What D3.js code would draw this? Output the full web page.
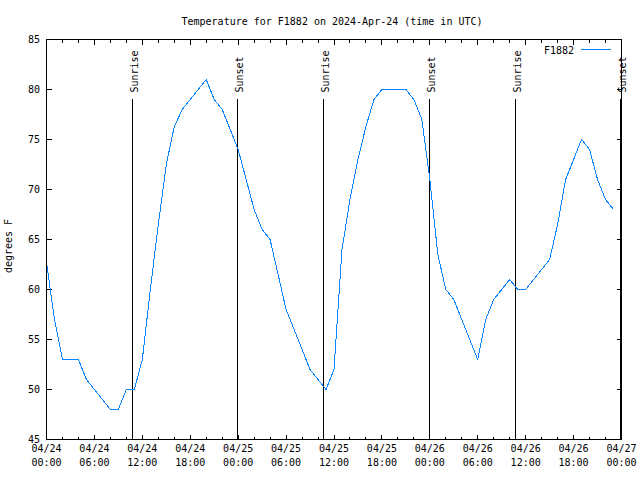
<!DOCTYPE html>
<html><head><meta charset="utf-8">
<script src="https://cdn.jsdelivr.net/npm/d3@7"></script>
<style>
body{margin:0;background:#fff}
svg{display:block}
text{font-family:"DejaVu Sans Mono",monospace;font-size:10px;fill:#000}
</style>
</head><body><svg id="c" width="640" height="480"></svg>
<script>
// ---- data ----
const chartTitle = "Temperature for F1882 on 2024-Apr-24 (time in UTC)";
const seriesName = "F1882";
const yAxisLabel = "degrees F";
const startTime = "2024-04-24T00:00:00Z";
const endTime = "2024-04-27T00:00:00Z";
// hourly temperatures (deg F) starting at startTime
const temps = [
  62.7, 57, 53, 53, 53, 51, 50, 49, 48, 48, 50, 50,
  53, 60, 66.5, 72.5, 76.3, 78, 79, 80, 81, 79, 78, 76,
  74, 71, 68, 66, 65, 61.5, 58, 56, 54, 52, 51, 50,
  52, 64, 69, 73, 76.3, 79, 80, 80, 80, 80, 79, 77,
  71, 63.5, 60, 59, 57, 55, 53, 57, 59, 60, 61, 60,
  60, 61, 62, 63, 66.5, 71, 73, 75, 74, 71, 69, 68
];
const yTicks = [45, 50, 55, 60, 65, 70, 75, 80, 85];
const sunLabels = ["Sunrise", "Sunset", "Sunrise", "Sunset", "Sunrise", "Sunset"];
const sunTimes = ["2024-04-24T10:46:00Z", "2024-04-24T23:54:00Z", "2024-04-25T10:42:00Z",
                  "2024-04-25T23:56:00Z", "2024-04-26T10:43:00Z", "2024-04-26T23:54:00Z"];

// ---- chart ----
const svg = d3.select("#c");
const L = 46.5, R = 621.5, T = 39.5, B = 439.5;
const t0 = new Date(startTime), t1 = new Date(endTime);
const x = d3.scaleUtc().domain([t0, t1]).range([L, R]);
const y = d3.scaleLinear().domain([45, 85]).range([B, T]);

const pts = temps.map((v, i) => ({t: d3.utcHour.offset(t0, i), v}));

// title
svg.append("text").attr("x", 332).attr("y", 25).attr("text-anchor", "middle").text(chartTitle);

// y label
svg.append("text").attr("transform", "translate(12,246) rotate(-90)")
  .attr("text-anchor", "middle").text(yAxisLabel);

const g = svg.append("g");

// ticks
const majorX = x.ticks(d3.utcHour.every(6));
const minorX = x.ticks(d3.utcHour.every(2)).filter(d => d.getUTCHours() % 6 !== 0);
const tk = g.append("g").attr("stroke", "#000").attr("stroke-width", 1).attr("shape-rendering", "crispEdges");
majorX.forEach(d => {
  const xx = Math.round(x(d) - 0.5) + 0.5;
  tk.append("line").attr("x1", xx).attr("x2", xx).attr("y1", B).attr("y2", B - 5);
  tk.append("line").attr("x1", xx).attr("x2", xx).attr("y1", T).attr("y2", T + 5);
});
minorX.forEach(d => {
  const xx = Math.round(x(d) - 0.5) + 0.5;
  tk.append("line").attr("x1", xx).attr("x2", xx).attr("y1", B).attr("y2", B - 3);
  tk.append("line").attr("x1", xx).attr("x2", xx).attr("y1", T).attr("y2", T + 3);
});
yTicks.forEach(v => {
  const yy = Math.round(y(v) - 0.5) + 0.5;
  tk.append("line").attr("x1", L).attr("x2", L + 5).attr("y1", yy).attr("y2", yy);
  tk.append("line").attr("x1", R).attr("x2", R - 5).attr("y1", yy).attr("y2", yy);
});

// y tick labels
yTicks.forEach(v => {
  svg.append("text").attr("x", 40).attr("y", y(v) + 3.7).attr("text-anchor", "end").text(v);
});
// x tick labels
const fDate = d3.utcFormat("%m/%d"), fTime = d3.utcFormat("%H:%M");
majorX.forEach(d => {
  const tx = svg.append("text").attr("text-anchor", "middle");
  tx.append("tspan").attr("x", x(d)).attr("y", 452).text(fDate(d));
  tx.append("tspan").attr("x", x(d)).attr("y", 466).text(fTime(d));
});

// sunrise / sunset
sunTimes.forEach((s, i) => {
  const d = new Date(s);
  const xx = Math.round(x(d) - 0.5) + 0.5;
  g.append("line").attr("x1", xx).attr("x2", xx).attr("y1", B).attr("y2", 99)
    .attr("stroke", "#000").attr("shape-rendering", "crispEdges");
  svg.append("text").attr("transform", `translate(${xx + 5},92.5) rotate(-90)`)
    .attr("text-anchor", "start").text(sunLabels[i]);
});

// data line
svg.append("clipPath").attr("id", "clip").append("rect")
  .attr("x", L).attr("y", T).attr("width", R - L).attr("height", B - T);
svg.append("path").datum(pts)
  .attr("clip-path", "url(#clip)")
  .attr("fill", "none").attr("stroke", "#0a84ff").attr("stroke-width", 1)
  .attr("shape-rendering", "crispEdges")
  .attr("d", d3.line().x(d => x(d.t)).y(d => y(d.v)));

// border
svg.append("rect").attr("x", L).attr("y", T).attr("width", R - L).attr("height", B - T)
  .attr("fill", "none").attr("stroke", "#000").attr("shape-rendering", "crispEdges");

// legend
svg.append("text").attr("x", 574).attr("y", 54).attr("text-anchor", "end").text(seriesName);
svg.append("line").attr("x1", 581).attr("x2", 611).attr("y1", 49.5).attr("y2", 49.5)
  .attr("stroke", "#0a84ff").attr("shape-rendering", "crispEdges");
</script>
</body></html>
